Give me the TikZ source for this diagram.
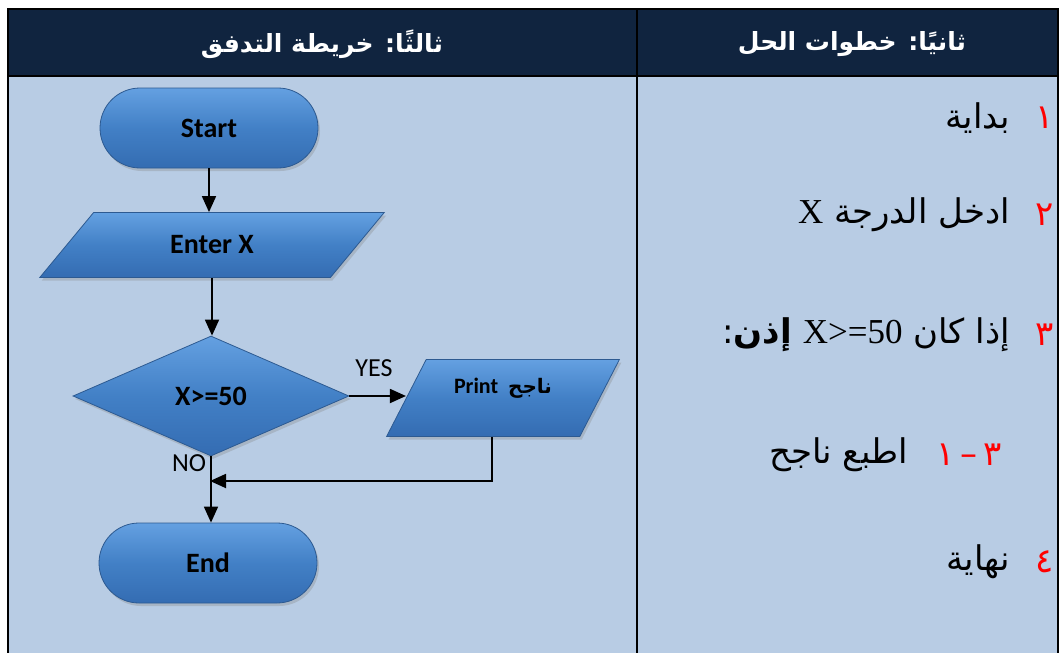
\documentclass[tikz,border=0pt]{standalone}
\usepackage{fontspec}
\usetikzlibrary{shapes.geometric,shapes.misc,shadows,arrows.meta}
\TeXXeTstate=1
\newfontfamily\arabicfont[Script=Arabic]{DejaVu Sans}
\newfontfamily\calib{Carlito}
\newfontfamily\timesf{Liberation Serif}
\definecolor{hdr}{RGB}{16,36,63}
\definecolor{bodybg}{RGB}{184,204,228}
\definecolor{shtop}{RGB}{100,160,225}
\definecolor{shmid}{RGB}{66,128,198}
\definecolor{shbot}{RGB}{52,108,178}
\definecolor{shline}{RGB}{45,90,145}
\definecolor{numred}{RGB}{255,0,0}
\tikzset{
  shapebase/.style={draw=shline, line width=0.8pt, top color=shtop, bottom color=shbot, middle color=shmid,
    drop shadow={shadow xshift=2pt, shadow yshift=-3pt, opacity=0.3},
    inner sep=0pt, font=\calib\bfseries\fontsize{28}{30}\selectfont, text=black},
  term/.style={shapebase, rounded rectangle, minimum width=218pt, minimum height=80pt},
  iobox/.style={shapebase, trapezium, trapezium stretches=true},
  decbox/.style={shapebase, diamond, aspect=2.3, minimum width=276pt, minimum height=120pt},
  flow/.style={line width=1.8pt, -{Triangle[length=16pt,width=14pt]}},
  lbl/.style={font=\calib\fontsize{26}{28}\selectfont, inner sep=0pt},
  hdrtext/.style={font=\arabicfont\bfseries\fontsize{25}{28}\selectfont, text=white, inner sep=0pt},
  item/.style={font=\arabicfont\fontsize{34}{38}\selectfont, inner sep=0pt, anchor=east},
  num/.style={font=\arabicfont\fontsize{34}{38}\selectfont, text=numred, inner sep=0pt},
  border/.style={line width=2.2pt, black}
}
\begin{document}
\begin{tikzpicture}[x=1pt,y=-1pt]
\useasboundingbox (0,0) rectangle (1061,653);
\fill[white] (0,0) rectangle (1061,653);
% table
\fill[hdr] (8,9) rectangle (1058,76);
\fill[bodybg] (8,76) rectangle (1058,653);
\draw[border] (8,653) -- (8,9) -- (1058,9) -- (1058,653);
\draw[border] (637,9) -- (637,653);
\draw[line width=2pt, black] (8,76) -- (1058,76);
% headers
\node[hdrtext] (h1) at (322,44) {\beginR ثالثًا: خريطة التدفق\endR};
\node[hdrtext] (h2) at (852,44) {\beginR ثانيًا: خطوات الحل\endR};
% flowchart
\node[term] (start) at (209,128) {Start};
\node[iobox, trapezium left angle=44, trapezium right angle=136, minimum width=345pt, minimum height=65pt] (enter) at (212,245) {Enter X};
\node[decbox] (dec) at (211,396) {X>=50};
\node[iobox, trapezium left angle=58, trapezium right angle=122, minimum width=233pt, minimum height=77pt,
      font=\calib\bfseries\fontsize{22}{24}\selectfont, text depth=0pt] (print) at (503,398) {\raisebox{25pt}{Print\ \ {\arabicfont\bfseries\fontsize{20}{22}\selectfont\beginR ناجح\endR}}};
\node[term] (end) at (208,563) {End};
\coordinate (m) at (210,481);
\coordinate (pb) at (492,481);
\draw[flow] (start.south) -- (start.south |- enter.north);
\draw[flow] (enter.south) -- (enter.south |- dec.north);
\draw[flow] (dec.east) -- (print.west |- dec.east);
\draw[flow] (dec.south) -- (dec.south |- end.north);
\draw[flow] (pb |- print.south) |- (m);
\node[lbl] (yes) at (374,368) {YES};
\node[lbl] (no) at (189,463) {NO};
% steps list
\node[num] (n1) at (1045,118) {١};
\node[item] (t1) at (1010,118) {\beginR بداية\endR};
\node[num] (n2) at (1045,215) {٢};
\node[item] (t2) at (1010,215) {\beginR ادخل الدرجة {\timesf\fontsize{35}{38}\selectfont X}\endR};
\node[num] (n3) at (1045,335) {٣};
\node[item] (t3) at (1010,335) {\beginR إذا كان \beginL{\timesf\fontsize{35}{38}\selectfont X>=50}\endL\ {\bfseries إذن}:\endR};
\node[num, anchor=east] (n31) at (1002,455) {\beginR ٣\,–\,١\endR};
\node[item] (t31) at (908,455) {\beginR اطبع ناجح\endR};
\node[num] (n4) at (1045,562) {٤};
\node[item] (t4) at (1010,562) {\beginR نهاية\endR};
\end{tikzpicture}
\end{document}
